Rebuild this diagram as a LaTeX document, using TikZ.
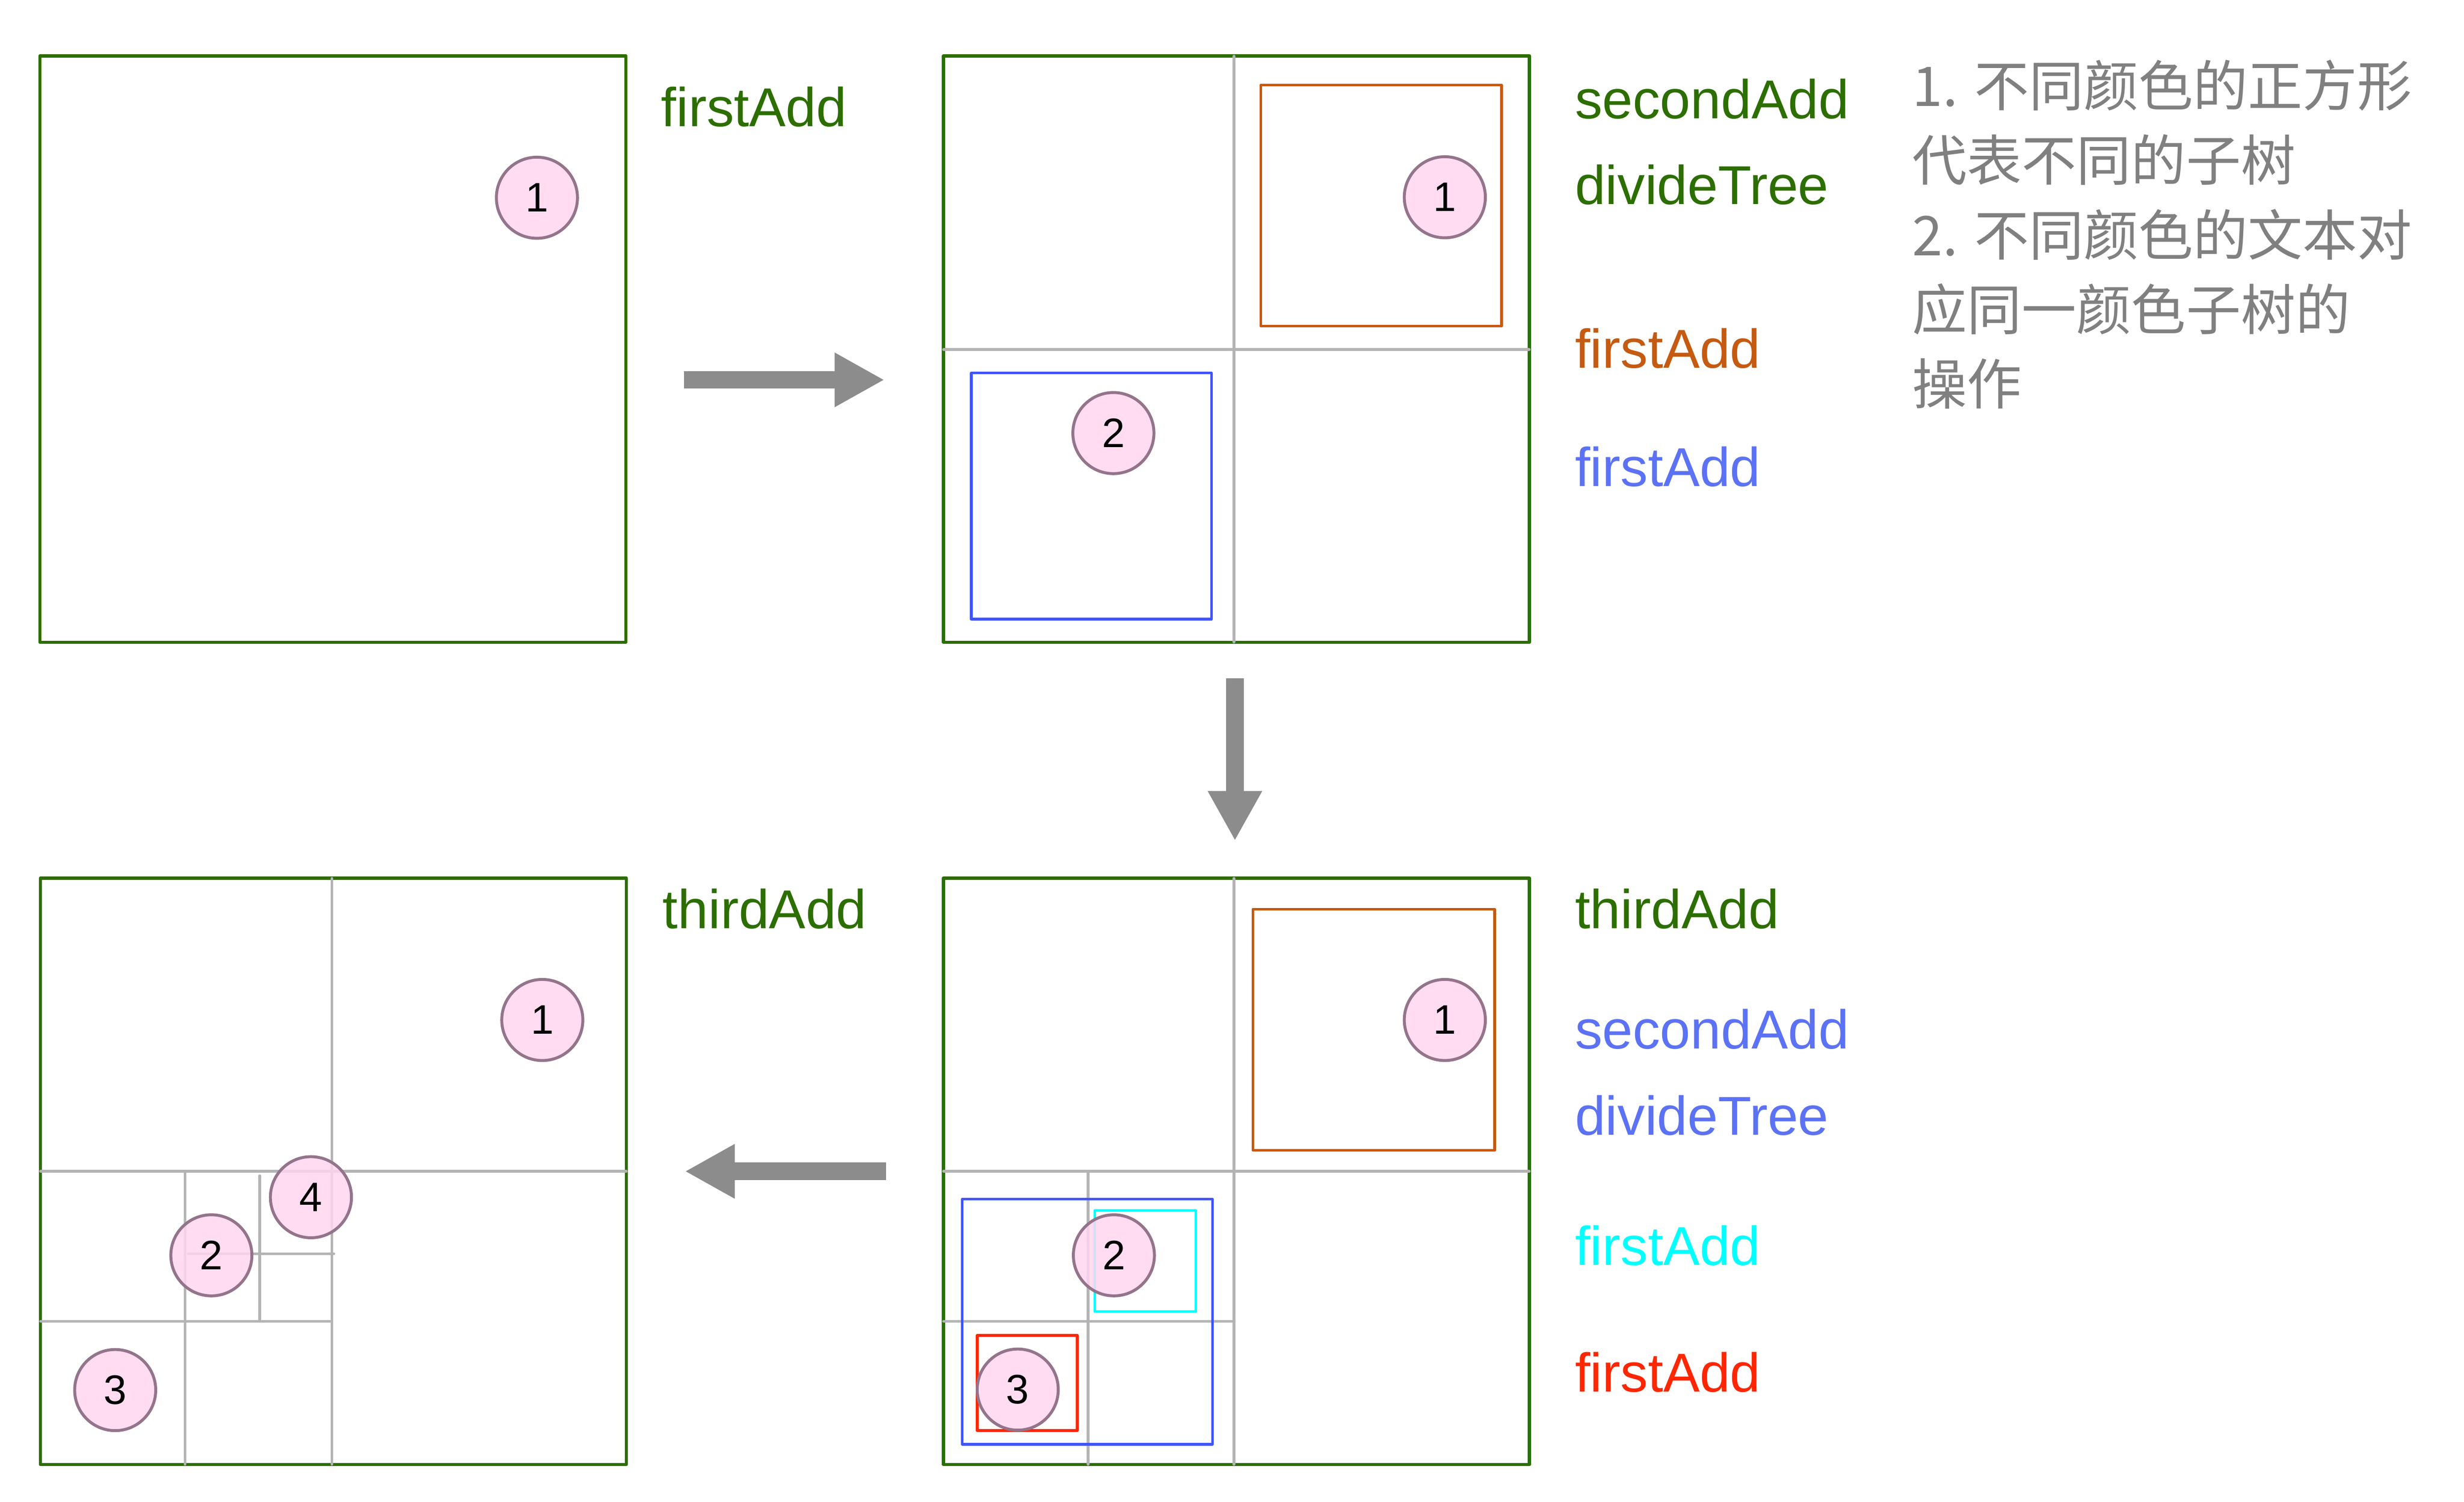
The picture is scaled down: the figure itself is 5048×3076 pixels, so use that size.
\documentclass[tikz,border=0pt]{standalone}
\usepackage{fontspec}
\setmainfont{Liberation Sans}
\newfontfamily\cjkfont{Noto Sans CJK SC}
\usetikzlibrary{arrows.meta}
\definecolor{treegreen}{RGB}{44,110,0}
\definecolor{treeorange}{RGB}{197,90,17}
\definecolor{treeblue}{RGB}{64,84,250}
\definecolor{textblue}{RGB}{92,114,245}
\definecolor{treecyan}{RGB}{0,255,255}
\definecolor{treered}{RGB}{255,38,0}
\definecolor{gridgray}{RGB}{180,180,180}
\definecolor{arrowgray}{RGB}{140,140,140}
\definecolor{notegray}{RGB}{128,128,128}
\definecolor{ballfill}{RGB}{255,214,240}
\definecolor{balldraw}{RGB}{148,116,139}
\begin{document}
\begin{tikzpicture}[x=0.01cm,y=-0.01cm,
  bigbox/.style={rectangle, draw=treegreen, line width=0.067cm, line join=round, minimum width=12cm, minimum height=12cm, inner sep=0pt, outer sep=0pt},
  gridline/.style={draw=gridgray, line width=0.055cm, line cap=round},
  subbox/.style={line width=0.055cm, line join=round},
  ball/.style={circle, draw=balldraw, fill=ballfill, fill opacity=0.85, text opacity=1, line width=0.06cm, minimum size=1.66cm, inner sep=0pt, font=\fontsize{24}{24}\selectfont},
  oplabel/.style={anchor=base west, inner sep=0pt, font=\fontsize{31.9}{38}\selectfont},
  noteline/.style={anchor=base west, inner sep=0pt, text=notegray, font=\cjkfont\fontsize{31.9}{43.5}\selectfont},
  blockarrow/.style={draw=arrowgray, line width=0.36cm, -{Triangle[length=1.02cm, width=1.04cm]}}
]
\useasboundingbox (0,0) rectangle (5048,3076);

% ---------- boxes ----------
\node[bigbox] (b1) at (682,715) {};
\node[bigbox] (b2) at (2533,715) {};
\node[bigbox] (b3) at (683,2399) {};
\node[bigbox] (b4) at (2533,2399) {};

% ---------- box 2 ----------
\draw[gridline] (2528,115) -- (2528,1315);
\draw[gridline] (1933,716) -- (3133,716);
\draw[subbox, draw=treeorange] (2583,174) rectangle (3076,668);
\draw[subbox, draw=treeblue] (1990,764) rectangle (2482,1268);

% ---------- box 3 ----------
\draw[gridline] (680,1799) -- (680,2999);
\draw[gridline] (83,2399) -- (1283,2399);
\draw[gridline] (379,2399) -- (379,2999);
\draw[gridline] (83,2706) -- (680,2706);
\draw[gridline] (532,2408) -- (532,2706);
\draw[gridline] (385,2568) -- (684,2568);

% ---------- box 4 ----------
\draw[gridline] (2528,1799) -- (2528,2999);
\draw[gridline] (1933,2399) -- (3133,2399);
\draw[gridline] (2229,2399) -- (2229,2999);
\draw[gridline] (1933,2706) -- (2528,2706);
\draw[subbox, draw=treeorange] (2567,1862) rectangle (3062,2356);
\draw[subbox, draw=treeblue] (1971,2456) rectangle (2484,2958);
\draw[subbox, draw=treecyan] (2243,2479) rectangle (2450,2686);
\draw[subbox, draw=treered] (2002,2735) rectangle (2207,2930);

% ---------- balls ----------
\node[ball] (p1a) at (1100,405) {1};
\node[ball] (p2a) at (2960,404) {1};
\node[ball] (p2b) at (2281,887) {2};
\node[ball] (p3a) at (1111,2089) {1};
\node[ball] (p3d) at (637,2452) {4};
\node[ball] (p3b) at (433,2571) {2};
\node[ball] (p3c) at (236,2847) {3};
\node[ball] (p4a) at (2960,2089) {1};
\node[ball] (p4b) at (2282,2571) {2};
\node[ball] (p4c) at (2085,2846) {3};

% ---------- arrows ----------
\coordinate (a1s) at (1401,778);
\coordinate (a1e) at (1812,778);
\coordinate (a2s) at (2530,1389);
\coordinate (a2e) at (2530,1722);
\coordinate (a3s) at (1815,2399);
\coordinate (a3e) at (1403,2399);
\draw[blockarrow] (a1s) -- (a1e);
\draw[blockarrow] (a2s) -- (a2e);
\draw[blockarrow] (a3s) -- (a3e);

% ---------- operation labels ----------
\node[oplabel, text=treegreen] (t1) at (1354,259) {firstAdd};
\node[oplabel, text=treegreen] (t2a) at (3226,243) {secondAdd};
\node[oplabel, text=treegreen] (t2b) at (3226,418) {divideTree};
\node[oplabel, text=treeorange] (t2c) at (3226,754) {firstAdd};
\node[oplabel, text=textblue] (t2d) at (3226,996) {firstAdd};
\node[oplabel, text=treegreen] (t3) at (1357,1902) {thirdAdd};
\node[oplabel, text=treegreen] (t4a) at (3226,1902) {thirdAdd};
\node[oplabel, text=textblue] (t4b) at (3226,2148) {secondAdd};
\node[oplabel, text=textblue] (t4c) at (3226,2325) {divideTree};
\node[oplabel, text=treecyan] (t4d) at (3226,2591) {firstAdd};
\node[oplabel, text=treered] (t4e) at (3226,2851) {firstAdd};

% ---------- note ----------
\node[noteline] (n1) at (3917,218) {1. 不同颜色的正方形};
\node[noteline] (n2) at (3917,370) {代表不同的子树};
\node[noteline] (n3) at (3917,523) {2. 不同颜色的文本对};
\node[noteline] (n4) at (3917,676) {应同一颜色子树的};
\node[noteline] (n5) at (3917,828) {操作};
\end{tikzpicture}
\end{document}
